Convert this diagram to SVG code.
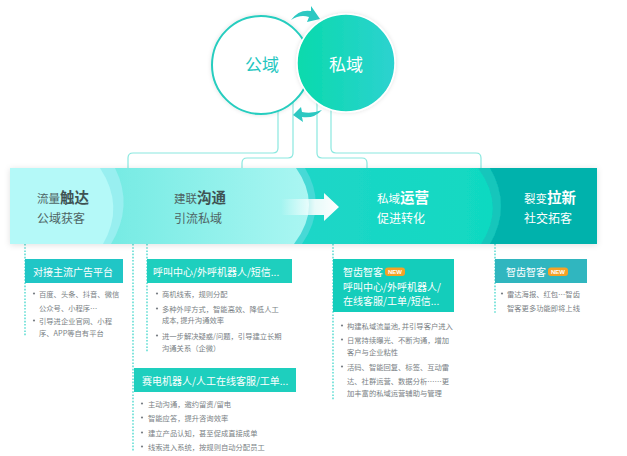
<svg xmlns="http://www.w3.org/2000/svg" width="627" height="456" viewBox="0 0 627 456">
<defs>
<linearGradient id="gPriv" x1="0" y1="0" x2="1" y2="0"><stop offset="0" stop-color="#08daac"/><stop offset="1" stop-color="#2dd2d0"/></linearGradient>
<linearGradient id="gSec2" x1="0" y1="0" x2="1" y2="0"><stop offset="0" stop-color="#5be5dc"/><stop offset="1" stop-color="#aaf6f2"/></linearGradient>
<linearGradient id="gSec3" x1="0" y1="0" x2="1" y2="0"><stop offset="0" stop-color="#34d1d2"/><stop offset="1" stop-color="#10d9c1"/></linearGradient>
<linearGradient id="gArrow" x1="0" y1="0" x2="1" y2="0"><stop offset="0" stop-color="#ffffff" stop-opacity="0"/><stop offset="0.6" stop-color="#ffffff" stop-opacity="0.9"/><stop offset="1" stop-color="#ffffff"/></linearGradient>
<filter id="sh" x="-10%" y="-20%" width="120%" height="140%"><feDropShadow dx="0" dy="1" stdDeviation="3" flood-color="#000" flood-opacity="0.12"/></filter>
<filter id="shc" x="-20%" y="-20%" width="140%" height="140%"><feDropShadow dx="0" dy="0" stdDeviation="2" flood-color="#000" flood-opacity="0.12"/></filter>
</defs>
<style>
text{font-family:"Noto Sans CJK SC","Noto Sans",sans-serif}
.conn{fill:none;stroke:#8ae8df;stroke-width:1.2}
.dot{fill:none;stroke:#2fd3c6;stroke-width:1.2;stroke-dasharray:1.6 1.6}
.hdr{fill:#1ecfbe}
.ht{fill:#fff;font-size:10px}
.bt{fill:#7a7f85;font-size:7.3px}
.bd{fill:#7a7f85}
.s1{fill:#4f6464;font-size:11.5px}
.b1{fill:#3f5353;font-size:14.5px;font-weight:bold}
.w1{fill:#ffffff;font-size:11.5px}
.wb{fill:#ffffff;font-size:14.5px;font-weight:bold}
.sub{font-size:12px}
.new{fill:#f6a125}
.nt{fill:#fff;font-size:6px;font-weight:bold;font-family:"Liberation Sans",sans-serif}
</style>

<g id="connectors">
<path class="conn" d="M278,100 V148 Q278,153 273,153 H133 Q128,153 128,158 V168"/>
<path class="conn" d="M293,100 V153 Q293,158 288,158 H247 Q242,158 242,163 V168"/>
<path class="conn" d="M317,100 V153 Q317,158 322,158 H362 Q367,158 367,163 V168"/>
<path class="conn" d="M331,100 V148 Q331,153 336,153 H476 Q481,153 481,158 V168"/>
<line class="dot" x1="25" y1="244" x2="25" y2="336"/>
<line class="dot" x1="133" y1="244" x2="133" y2="452"/>
<line class="dot" x1="147" y1="244" x2="147" y2="352"/>
<line class="dot" x1="333" y1="244" x2="333" y2="400"/>
<line class="dot" x1="495" y1="244" x2="495" y2="314"/>
</g>

<g id="circles">
<g id="public">
<circle cx="261" cy="65" r="49" fill="#fff" stroke="#27cdbf" stroke-width="2" filter="url(#shc)"/>
<text x="262" y="71" text-anchor="middle" font-size="17" fill="#24c6c0">公域</text>
</g>
<g id="private">
<circle cx="346" cy="63" r="49" fill="url(#gPriv)" stroke="#ffffff" stroke-width="1.5" filter="url(#shc)"/>
<text x="346" y="71" text-anchor="middle" font-size="17" fill="#fff">私域</text>
</g>
<path id="arrowTop" fill="#2cc8c2" d="M291,20 Q299,9 311,11 L311,6 L320,19 L307,22 L309,17 Q300,14 291,20 Z"/>
<path id="arrowBottom" fill="#2cc8c2" d="M322,110 Q314,119 302,117 L303,122 L293,115 L301,107 L302,112 Q312,114 322,110 Z"/>
</g>

<g id="band" filter="url(#sh)">
<rect x="10" y="168" width="587" height="76" fill="#03b2ac"/>
<path d="M10,168 H490 Q512,206 490,244 H10 Z" fill="#12c6bb"/>
<path d="M10,168 H478 Q506,206 481,244 H10 Z" fill="url(#gSec3)"/>
<path d="M10,168 H305 Q328,206 302,244 H10 Z" fill="#47d9d6"/>
<path d="M10,168 H296 Q323,206 294,244 H10 Z" fill="url(#gSec2)"/>
<path d="M10,168 H115 Q134,206 111,244 H10 Z" fill="#98eff0"/>
<path d="M10,168 H100 Q125,206 103,244 H10 Z" fill="#b4f9f8"/>
<path d="M281,199 H324 V193 L339,207 L324,221 V215 H281 Z" fill="url(#gArrow)"/>
</g>

<g id="stage1">
<text x="37" y="203"><tspan class="s1">流量</tspan><tspan class="b1">触达</tspan></text>
<text x="37" y="223" class="s1 sub">公域获客</text>
</g>
<g id="stage2">
<text x="174" y="203"><tspan class="s1">建联</tspan><tspan class="b1">沟通</tspan></text>
<text x="174" y="223" class="s1 sub">引流私域</text>
</g>
<g id="stage3">
<text x="377" y="203"><tspan class="w1">私域</tspan><tspan class="wb">运营</tspan></text>
<text x="377" y="223" class="w1 sub">促进转化</text>
</g>
<g id="stage4">
<text x="524" y="203"><tspan class="w1">裂变</tspan><tspan class="wb">拉新</tspan></text>
<text x="524" y="223" class="w1 sub">社交拓客</text>
</g>

<g id="box1">
<rect x="25" y="259" width="98" height="24" fill="#20c6c6"/>
<text x="33" y="276" class="ht">对接主流广告平台</text>
<circle cx="34" cy="293.5" r="1.1" class="bd"/>
<text x="39" y="297" class="bt">百度、头条、抖音、微信</text>
<text x="39" y="311" class="bt">公众号、小程序…</text>
<circle cx="34" cy="320.5" r="1.1" class="bd"/>
<text x="39" y="324" class="bt">引导进企业官网、小程</text>
<text x="39" y="336" class="bt">序、APP等自有平台</text>
</g>

<g id="box2">
<rect x="147" y="259" width="145" height="24" class="hdr"/>
<text x="153" y="276" class="ht">呼叫中心/外呼机器人/短信...</text>
<circle cx="157" cy="293.5" r="1.1" class="bd"/>
<text x="162" y="297" class="bt">商机线索，规则分配</text>
<circle cx="157" cy="308.5" r="1.1" class="bd"/>
<text x="162" y="312" class="bt">多种外呼方式，智能高效、降低人工</text>
<text x="162" y="323" class="bt">成本, 提升沟通效率</text>
<circle cx="157" cy="335.5" r="1.1" class="bd"/>
<text x="162" y="339" class="bt">进一步解决疑惑/问题，引导建立长期</text>
<text x="162" y="351" class="bt">沟通关系（企微）</text>
</g>

<g id="box3">
<rect x="134" y="368" width="162" height="24" class="hdr"/>
<text x="142" y="385" class="ht">赛电机器人/人工在线客服/工单...</text>
<circle cx="142" cy="403.5" r="1.1" class="bd"/>
<text x="148" y="407" class="bt">主动沟通，邀约留资/留电</text>
<circle cx="142" cy="417.5" r="1.1" class="bd"/>
<text x="148" y="421" class="bt">智能应答，提升咨询效率</text>
<circle cx="142" cy="432.5" r="1.1" class="bd"/>
<text x="148" y="436" class="bt">建立产品认知，甚至促成直接成单</text>
<circle cx="142" cy="446.5" r="1.1" class="bd"/>
<text x="148" y="450" class="bt">线索进入系统，按规则自动分配员工</text>
</g>

<g id="box4">
<rect x="333" y="259" width="121" height="53" fill="#14cdbb"/>
<text x="343" y="276" class="ht">智齿智客</text>
<rect x="385" y="267.5" width="20" height="8.5" rx="3" class="new"/>
<text x="395" y="274" text-anchor="middle" class="nt">NEW</text>
<text x="343" y="291" class="ht">呼叫中心/外呼机器人/</text>
<text x="343" y="305" class="ht">在线客服/工单/短信...</text>
<circle cx="342" cy="325.5" r="1.1" class="bd"/>
<text x="347" y="329" class="bt">构建私域流量池, 并引导客户进入</text>
<circle cx="342" cy="339.5" r="1.1" class="bd"/>
<text x="347" y="343" class="bt">日常持续曝光、不断沟通，增加</text>
<text x="347" y="355" class="bt">客户与企业粘性</text>
<circle cx="342" cy="366.5" r="1.1" class="bd"/>
<text x="347" y="370" class="bt">活码、智能回复、标签、互动雷</text>
<text x="347" y="384" class="bt">达、社群运营、数据分析……更</text>
<text x="347" y="396" class="bt">加丰富的私域运营辅助与管理</text>
</g>

<g id="box5">
<rect x="495" y="259" width="92" height="24" fill="#30b6bf"/>
<text x="506" y="276" class="ht">智齿智客</text>
<rect x="548" y="267.5" width="20" height="8.5" rx="3" class="new"/>
<text x="558" y="274" text-anchor="middle" class="nt">NEW</text>
<circle cx="502" cy="293.5" r="1.1" class="bd"/>
<text x="507" y="297" class="bt">雷达海报、红包…智齿</text>
<text x="507" y="311" class="bt">智客更多功能即将上线</text>
</g>
</svg>
